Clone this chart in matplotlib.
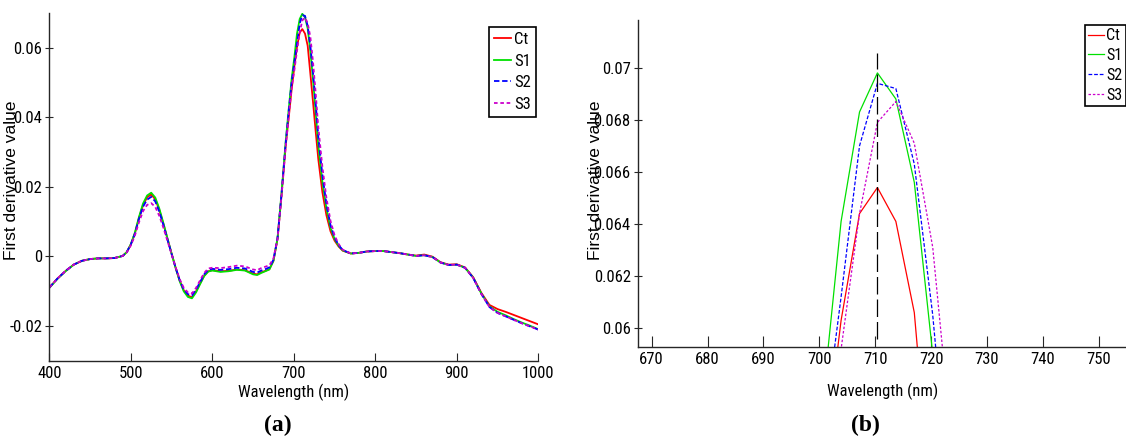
import matplotlib
matplotlib.use('Agg')
import matplotlib.pyplot as plt

plt.rcParams['font.family'] = ['Liberation Sans Narrow', 'Roboto Condensed', 'Liberation Sans', 'DejaVu Sans']

# wavelengths (nm) and first-derivative spectra
wl = [400, 410, 420, 430, 440, 450, 460, 470, 480, 490,
      495, 500, 505, 510, 515, 520, 525, 530, 535, 540, 545, 550, 555, 560,
      565, 570, 575, 580, 585, 590, 595, 600,
      610, 620, 630, 640, 650, 655, 660, 665, 670, 675, 680, 685, 690,
      694.0, 697.3, 700.6, 703.9, 707.2, 710.4, 713.7, 717.0, 720.3, 723.5, 726.8,
      730, 735, 740, 745, 750, 755, 760,
      770, 780, 790, 800, 810, 820, 830, 840, 850, 860, 870, 880, 890, 900,
      910, 920, 930, 940, 950, 960, 970, 980, 990, 1000]

ct = [-0.0090, -0.0064, -0.0042, -0.0024, -0.0013, -0.0008, -0.0006, -0.0006, -0.0005, 0.0001,
      0.0012, 0.0034, 0.0066, 0.0110, 0.0147, 0.0170, 0.0178, 0.0164, 0.0133, 0.0093, 0.0050, 0.0008, -0.0033, -0.0070,
      -0.0098, -0.0113, -0.0118, -0.0101, -0.0078, -0.0056, -0.0043, -0.0040,
      -0.0043, -0.0042, -0.0038, -0.0040, -0.0050, -0.0052, -0.0046, -0.0042, -0.0037, -0.0013, 0.0050, 0.0178, 0.0318,
      0.0405, 0.0480, 0.0545, 0.0603, 0.0644, 0.0654, 0.0641, 0.0606, 0.0525, 0.0445, 0.0360,
      0.0280, 0.0185, 0.0118, 0.0072, 0.0045, 0.0028, 0.0016,
      0.0008, 0.0010, 0.0014, 0.0015, 0.0015, 0.0012, 0.0009, 0.0005, 0.0002, 0.0005, -0.0001, -0.0017, -0.0024, -0.0023,
      -0.0032, -0.0060, -0.0105, -0.0140, -0.0152, -0.0160, -0.0169, -0.0178, -0.0187, -0.0196]

s1 = [-0.0091, -0.0065, -0.0043, -0.0024, -0.0013, -0.0008, -0.0006, -0.0006, -0.0005, 0.0001,
      0.0012, 0.0035, 0.0068, 0.0113, 0.0152, 0.0175, 0.0183, 0.0169, 0.0137, 0.0095, 0.0051, 0.0008, -0.0034, -0.0072,
      -0.0101, -0.0117, -0.0121, -0.0104, -0.0080, -0.0057, -0.0044, -0.0041,
      -0.0045, -0.0043, -0.0039, -0.0041, -0.0052, -0.0054, -0.0048, -0.0043, -0.0038, -0.0013, 0.0052, 0.0185, 0.0330,
      0.0430, 0.0510, 0.0572, 0.0641, 0.0683, 0.0698, 0.0688, 0.0656, 0.0590, 0.0510, 0.0415,
      0.0320, 0.0215, 0.0138, 0.0082, 0.0050, 0.0030, 0.0017,
      0.0008, 0.0010, 0.0014, 0.0015, 0.0015, 0.0012, 0.0009, 0.0005, 0.0001, 0.0003, -0.0002, -0.0018, -0.0025, -0.0024,
      -0.0033, -0.0061, -0.0107, -0.0144, -0.0160, -0.0170, -0.0181, -0.0191, -0.0200, -0.0210]

s2 = [-0.0090, -0.0064, -0.0042, -0.0024, -0.0013, -0.0008, -0.0006, -0.0006, -0.0005, 0.0001,
      0.0012, 0.0034, 0.0065, 0.0108, 0.0143, 0.0163, 0.0171, 0.0158, 0.0128, 0.0090, 0.0048, 0.0007, -0.0033, -0.0069,
      -0.0096, -0.0109, -0.0113, -0.0096, -0.0074, -0.0052, -0.0039, -0.0036,
      -0.0039, -0.0037, -0.0033, -0.0035, -0.0045, -0.0047, -0.0041, -0.0037, -0.0032, -0.0010, 0.0052, 0.0182, 0.0325,
      0.0425, 0.0500, 0.0557, 0.0612, 0.0670, 0.0694, 0.0692, 0.0663, 0.0605, 0.0530, 0.0440,
      0.0345, 0.0235, 0.0150, 0.0090, 0.0054, 0.0032, 0.0018,
      0.0008, 0.0010, 0.0014, 0.0015, 0.0015, 0.0012, 0.0009, 0.0005, 0.0001, 0.0003, -0.0002, -0.0018, -0.0025, -0.0024,
      -0.0033, -0.0062, -0.0108, -0.0146, -0.0163, -0.0173, -0.0183, -0.0193, -0.0202, -0.0211]

s3 = [-0.0090, -0.0064, -0.0042, -0.0024, -0.0013, -0.0008, -0.0006, -0.0006, -0.0005, 0.0001,
      0.0011, 0.0031, 0.0060, 0.0098, 0.0130, 0.0148, 0.0153, 0.0142, 0.0116, 0.0082, 0.0044, 0.0006, -0.0032, -0.0066,
      -0.0091, -0.0104, -0.0107, -0.0091, -0.0069, -0.0048, -0.0035, -0.0033,
      -0.0034, -0.0031, -0.0027, -0.0029, -0.0038, -0.0040, -0.0034, -0.0030, -0.0026, -0.0006, 0.0050, 0.0176, 0.0315,
      0.0410, 0.0485, 0.0535, 0.0592, 0.0644, 0.0679, 0.0687, 0.0671, 0.0631, 0.0560, 0.0470,
      0.0372, 0.0258, 0.0168, 0.0102, 0.0060, 0.0035, 0.0019,
      0.0008, 0.0010, 0.0014, 0.0015, 0.0015, 0.0012, 0.0009, 0.0005, 0.0001, 0.0003, -0.0002, -0.0018, -0.0025, -0.0024,
      -0.0033, -0.0062, -0.0108, -0.0146, -0.0163, -0.0173, -0.0183, -0.0193, -0.0202, -0.0211]

labels = ['Ct', 'S1', 'S2', 'S3']
colors = ['#FF0000', '#00E000', '#0000FF', '#CC00CC']
dashes = [None, None, (3, 1.5), (2, 1.5)]

# marker line at the red-edge peak in panel (b)
peak_wl = 710.4
peak_span = (0.0596, 0.07056)

xticks_a = [400, 500, 600, 700, 800, 900, 1000]
yticks_a = [-0.02, 0, 0.02, 0.04, 0.06]
yticklabels_a = ['-0.02', '0', '0.02', '0.04', '0.06']
xticks_b = [670, 680, 690, 700, 710, 720, 730, 740, 750]
yticks_b = [0.06, 0.062, 0.064, 0.066, 0.068, 0.07]
yticklabels_b = ['0.06', '0.062', '0.064', '0.066', '0.068', '0.07']

series = [ct, s1, s2, s3]

fig = plt.figure(figsize=(11.26, 4.41), dpi=100)
ax1 = fig.add_axes([0.0438, 0.1825, 0.4343, 0.7878])
ax2 = fig.add_axes([0.5663, 0.2138, 0.4343, 0.7408])


def style(ax):
    for side in ['top', 'right']:
        ax.spines[side].set_visible(False)
    for side in ['left', 'bottom']:
        ax.spines[side].set_color('#262626')
        ax.spines[side].set_linewidth(1.0)
    ax.tick_params(axis='x', direction='in', length=6, width=0.8, labelsize=12, pad=4, colors='#262626')
    ax.tick_params(axis='y', direction='inout', length=6, width=0.8, labelsize=12, pad=2, colors='#262626')
    for t in ax.get_xticklabels() + ax.get_yticklabels():
        t.set_color('black')


# (a) full spectrum
for y, lab, c, d in zip(series, labels, colors, dashes):
    line, = ax1.plot(wl, y, color=c, lw=1.3, label=lab)
    if d:
        line.set_dashes(d)
ax1.set_xlim(400, 1000)
ax1.set_ylim(-0.03, 0.07)
ax1.set_xticks(xticks_a)
ax1.set_yticks(yticks_a)
ax1.set_yticklabels(yticklabels_a)
style(ax1)
ax1.set_xlabel('Wavelength (nm)', fontsize=12, labelpad=2)
ax1.set_ylabel('First derivative value', fontsize=12.5, family=['Liberation Sans', 'DejaVu Sans'])
ax1.yaxis.set_label_coords(-0.061, 0.52)
leg1 = ax1.legend(loc='upper left', bbox_to_anchor=(489 / 1126, 1 - 27 / 441),
                  bbox_transform=fig.transFigure, fontsize=12, handlelength=1.0,
                  handletextpad=0.2, borderpad=0.3, labelspacing=0.4,
                  borderaxespad=0, fancybox=False, framealpha=1)
leg1.get_frame().set_edgecolor('black')
leg1.get_frame().set_linewidth(1.2)

# (b) zoom around the peak
for y, lab, c, d in zip(series, labels, colors, dashes):
    line, = ax2.plot(wl, y, color=c, lw=0.9, label=lab)
    if d:
        line.set_dashes(d)
ax2.vlines(peak_wl, peak_span[0], peak_span[1], colors='black', lw=0.9,
           linestyles=(0, (14, 4)))
ax2.set_xlim(667.5, 755)
ax2.set_ylim(0.05929, 0.07183)
ax2.set_xticks(xticks_b)
ax2.set_yticks(yticks_b)
ax2.set_yticklabels(yticklabels_b)
style(ax2)
ax2.tick_params(axis='x', length=8)
ax2.set_xlabel('Wavelength (nm)', fontsize=12, labelpad=11)
ax2.set_ylabel('First derivative value', fontsize=12.5, family=['Liberation Sans', 'DejaVu Sans'])
ax2.yaxis.set_label_coords(-0.07, 0.51)
leg2 = ax2.legend(loc='upper right', bbox_to_anchor=(1125.5 / 1126, 1 - 25 / 441),
                  bbox_transform=fig.transFigure, fontsize=11.5, handlelength=1.0,
                  handletextpad=0.15, borderpad=0.2, labelspacing=0.3,
                  borderaxespad=0, fancybox=False, framealpha=1)
leg2.get_frame().set_edgecolor('black')
leg2.get_frame().set_linewidth(1.2)

fig.text(278 / 1126, 1 - 425 / 441, '(a)', ha='center', va='center', fontsize=17,
         fontweight='bold', family=['Liberation Serif', 'DejaVu Serif'])
fig.text(865 / 1126, 1 - 425 / 441, '(b)', ha='center', va='center', fontsize=17,
         fontweight='bold', family=['Liberation Serif', 'DejaVu Serif'])

fig.savefig('out.png', dpi=100)
